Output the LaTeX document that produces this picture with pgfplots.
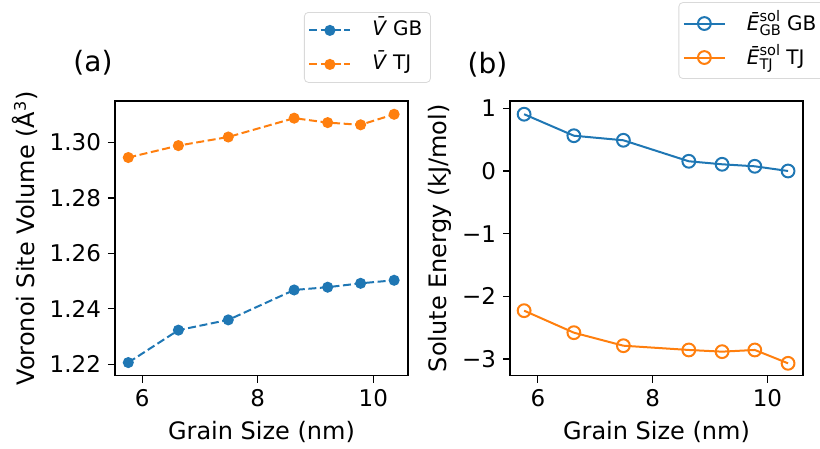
\documentclass[border=0pt]{standalone}
\usepackage{pgfplots}
\pgfplotsset{compat=1.18}
\usepackage{fontspec}
\setmainfont{DejaVu Sans}
\definecolor{tabblue}{HTML}{1F77B4}
\definecolor{taborange}{HTML}{FF7F0E}
\newcommand{\scr}{\fontsize{7.3}{7.3}\selectfont}
\newcommand{\Esolwide}[1]{\textit{Ē}\rlap{\raisebox{4.3pt}{\scr sol}}\raisebox{-2.5pt}{\scr #1}}
\newcommand{\Esolnarrow}[1]{\textit{Ē}\rlap{\raisebox{-2.5pt}{\scr #1}}\raisebox{4.3pt}{\scr sol}}
\begin{document}
\begin{tikzpicture}
\path[use as bounding box] (0,0) rectangle (410pt,224.5pt);
\pgfplotsset{myax/.style={
  scale only axis, width=146.5pt, height=137.3pt, clip=false,
  axis line style={line width=0.6pt},
  tick align=outside, xtick pos=bottom, ytick pos=left,
  major tick length=3.5pt, tick style={line width=0.6pt, black},
  ticklabel style={font=\fontsize{11.5}{13}\selectfont},
  label style={font=\fontsize{12}{14}\selectfont},
  xmin=5.53, xmax=10.6, xtick={6,8,10},
  /pgf/number format/assume math mode=true,
  legend cell align=left,
  legend style={draw=black!15, rounded corners=2pt, inner xsep=2pt, inner ysep=2pt,
    font=\fontsize{10}{12}\selectfont,
    nodes={inner xsep=2pt, inner ysep=1.5pt, text height=8pt, text depth=3pt},
    row sep=3pt,
    /tikz/every odd column/.append style={column sep=8.5pt}},
  legend image code/.code={\draw[mark repeat=2,mark phase=2,##1] plot coordinates {(0pt,0pt) (10.25pt,0pt) (20.5pt,0pt)};},
  xlabel={Grain Size (nm)},
  xlabel style={at={(axis description cs:0.5,-0.205)}, anchor=center},
}}
% (a)
\begin{axis}[myax, at={(57.5pt,36.7pt)}, anchor=south west,
  ymin=1.2159, ymax=1.315,
  ytick={1.22,1.24,1.26,1.28,1.30},
  yticklabels={1.22,1.24,1.26,1.28,1.30},
  ylabel={Voronoi Site Volume (Å\textsuperscript{3})},
  ylabel style={at={(axis description cs:-0.307,0.5)}, anchor=center},
  legend style={at={(axis description cs:0.645,1.324)}, anchor=north west},
]
\addplot[color=tabblue, line width=1pt, dash pattern=on 4pt off 1.8pt, mark=*, mark size=2.25pt, mark options={solid, fill=tabblue, draw=tabblue}]
 coordinates {(5.76,1.2206) (6.627,1.2323) (7.49,1.2360) (8.63,1.2468) (9.21,1.2478) (9.78,1.2492) (10.36,1.2503)};
\addlegendentry{\textit{\=V} GB\hspace{2pt}}
\addplot[color=taborange, line width=1pt, dash pattern=on 4pt off 1.8pt, mark=*, mark size=2.25pt, mark options={solid, fill=taborange, draw=taborange}]
 coordinates {(5.76,1.2946) (6.627,1.2989) (7.49,1.3020) (8.63,1.3088) (9.21,1.3072) (9.78,1.3064) (10.36,1.3102)};
\addlegendentry{\textit{\=V} TJ}
\node[anchor=west, inner sep=0pt, font=\fontsize{14}{16}\selectfont] at (axis description cs:-0.143,1.14) {(a)};
\end{axis}
% (b)
\begin{axis}[myax, at={(255pt,36.7pt)}, anchor=south west,
  xmin=5.514, xmax=10.62,
  ymin=-3.265, ymax=1.117,
  ytick={-3,-2,-1,0,1},
  yticklabels={−3,−2,−1,0,1},
  ylabel={Solute Energy (kJ/mol)},
  ylabel style={at={(axis description cs:-0.238,0.5)}, anchor=center},
  legend style={at={(axis description cs:0.575,1.36)}, anchor=north west,
    nodes={text height=10.5pt, text depth=3.5pt}, row sep=0pt},
]
\addplot[color=tabblue, line width=1pt, mark=o, mark size=3.2pt, mark options={fill=white, line width=1pt}]
 coordinates {(5.76,0.906) (6.627,0.563) (7.49,0.490) (8.63,0.155) (9.21,0.107) (9.78,0.075) (10.36,0.0)};
\addlegendentry{\Esolwide{GB} GB\hspace{4pt}}
\addplot[color=taborange, line width=1pt, mark=o, mark size=3.2pt, mark options={fill=white, line width=1pt}]
 coordinates {(5.76,-2.229) (6.627,-2.580) (7.49,-2.788) (8.63,-2.856) (9.21,-2.883) (9.78,-2.856) (10.36,-3.069)};
\addlegendentry{\Esolnarrow{TJ} TJ}
\node[anchor=west, inner sep=0pt, font=\fontsize{14}{16}\selectfont] at (axis description cs:-0.146,1.131) {(b)};
\end{axis}
\end{tikzpicture}
\end{document}
